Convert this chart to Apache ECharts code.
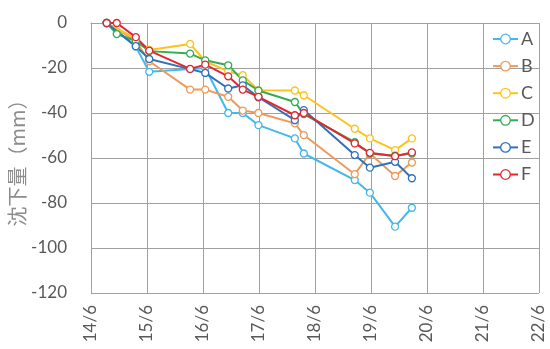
<!DOCTYPE html>
<html><head><meta charset="utf-8">
<script src="https://cdn.jsdelivr.net/npm/echarts@6/dist/echarts.min.js"></script>
<style>html,body{margin:0;padding:0;background:#fff}#c{width:550px;height:349px}</style>
</head><body><div id="c"></div>
<script>
// x = years elapsed since "14/6"
var tickLabels = ['14/6','15/6','16/6','17/6','18/6','19/6','20/6','21/6','22/6'];
var dates = [0.28, 0.46, 0.80, 1.04, 1.77, 2.04, 2.45, 2.71, 2.99, 3.64, 3.80, 4.71, 4.98, 5.43, 5.73];
var seriesNames = ['A','B','C','D','E','F'];
var valA = [0, null, -10.5, -21.7, null, -20.0, -40.0, -40.0, -45.4, -51.3, -58.0, -69.8, -75.4, -90.5, -82.1];
var valB = [0, null, -8.0, -17.0, -29.6, -29.6, -32.8, -38.9, -40.0, -44.6, -49.8, -67.2, -58.0, -68.0, -62.0];
var valC = [0, null, -7.0, -12.0, -9.3, -17.0, -21.5, -23.2, -29.9, -30.0, -32.1, -47.0, -51.3, -56.5, -51.3];
var valD = [0, -4.9, -8.0, -12.5, -13.6, -16.6, -18.8, -25.5, -30.0, -35.1, -40.5, -53.0, -58.0, -59.0, -58.0];
var valE = [0, null, -10.3, -16.0, -20.5, -22.2, -29.1, -27.7, -33.0, -43.2, -38.7, -58.7, -64.3, -61.7, -69.0];
var valF = [0, 0, -6.3, -12.3, -20.4, -18.5, -23.7, -29.6, -32.8, -41.0, -40.0, -53.5, -57.7, -59.2, -57.5];
var colors = ['#45b8e8','#ee9a5a','#ffc21a','#33ad52','#2f72b8','#e3262f'];

var allVals = [valA, valB, valC, valD, valE, valF];
var series = allVals.map(function(v, i){
  return {
    name: seriesNames[i], type: 'line',
    data: dates.map(function(d, j){ return v[j] === null ? null : [d, v[j]]; }).filter(function(p){return p!==null;}),
    symbol: 'circle', symbolSize: 7, showSymbol: true,
    itemStyle: {color: '#fff', borderColor: colors[i], borderWidth: 1.3},
    lineStyle: {color: colors[i], width: 2},
    emphasis: {disabled: true},
    animation: false
  };
});

var chart = echarts.init(document.getElementById('c'), null, {renderer: 'canvas'});
chart.setOption({
  animation: false,
  textStyle: {fontFamily: 'Lato'},
  grid: {left: 91, right: 11, top: 23, bottom: 56, containLabel: false, outerBoundsMode: 'none'},
  legend: {
    orient: 'vertical', left: 487, top: 25, itemWidth: 25, itemHeight: 12, itemGap: 9.1,
    data: seriesNames.map(function(n, i){ return {name: n, itemStyle: {color: '#fff', borderColor: colors[i], borderWidth: 1.3}, lineStyle: {color: colors[i], width: 2}}; }),
    textStyle: {color: '#595959', fontSize: 18, fontFamily: 'Lato', padding: [0,0,0,-2]}
  },
  xAxis: {
    type: 'value', min: 0, max: 8, interval: 1,
    axisLine: {show: true, lineStyle: {color: '#a0a0a0'}},
    axisTick: {show: false},
    splitLine: {show: true, lineStyle: {color: '#a0a0a0', width: 1}},
    axisLabel: {rotate: 90, color: '#595959', fontSize: 17, fontFamily: 'Lato', margin: 12,
      formatter: function(v){ return tickLabels[Math.round(v)]; }}
  },
  yAxis: {
    type: 'value', min: -120, max: 0, interval: 20,
    name: '沈下量（mm）', nameLocation: 'middle', nameGap: 64, nameRotate: 90, nameMoveOverlap: false,
    nameTextStyle: {color: '#8c8c8c', fontSize: 20, fontFamily: 'Noto Sans CJK JP'},
    axisLine: {show: true, lineStyle: {color: '#a0a0a0'}},
    axisTick: {show: false},
    splitLine: {show: true, lineStyle: {color: '#a0a0a0', width: 1}},
    axisLabel: {color: '#595959', fontSize: 17, fontFamily: 'Lato', margin: 24}
  },
  series: series
});
</script></body></html>
